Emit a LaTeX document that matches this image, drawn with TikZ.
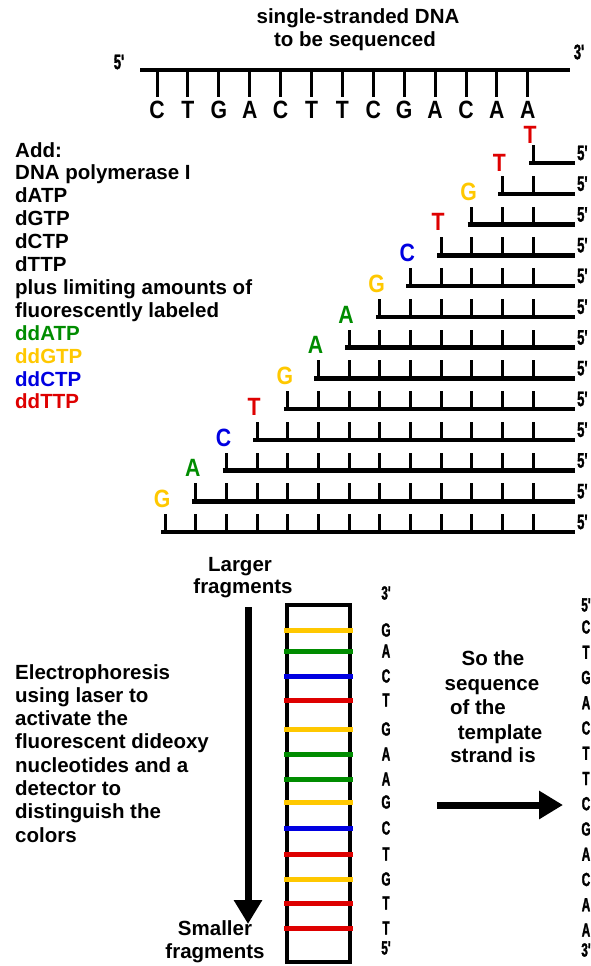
\documentclass[tikz,border=0pt]{standalone}
\usepackage{fontspec}
\setmainfont{Liberation Sans}
\newfontfamily\letf[FakeStretch=0.85]{Liberation Sans Bold}
\newfontfamily\gelf[FakeStretch=0.62,FakeBold=1.5]{Liberation Sans Bold}
\usetikzlibrary{arrows.meta}
\definecolor{cred}{RGB}{222,0,0}
\definecolor{cgrn}{RGB}{0,140,0}
\definecolor{cyel}{RGB}{255,200,0}
\definecolor{cblu}{RGB}{0,0,225}
\tikzset{
  txt/.style={inner sep=0pt,anchor=base west,font=\fontsize{20.5}{23}\bfseries\selectfont},
  ctxt/.style={inner sep=0pt,anchor=base,font=\fontsize{20.5}{23}\bfseries\selectfont},
  base letter/.style={inner sep=0pt,font=\fontsize{25}{25}\letf\selectfont},
  gel letter/.style={inner sep=0pt,font=\fontsize{19}{19}\gelf\selectfont},
  five/.style={inner sep=0pt,anchor=west,font=\fontsize{21}{21}\gelf\selectfont},
  strand/.style={line width=4.5pt},
  tick/.style={line width=3pt},
  band/.style={line width=5pt},
  bigarrow/.style={line width=7pt,-{Triangle[width=27pt,length=24pt]}}
}
\begin{document}
\begin{tikzpicture}[x=1pt,y=-1pt]
\useasboundingbox (0,0) rectangle (590,966);
% title
\node[ctxt] (t1) at (358,24) {single-stranded DNA};
\node[ctxt] (t2) at (355,47) {to be sequenced};
% template strand
\coordinate (ts) at (140,70);
\coordinate (te) at (570,70);
\draw[strand] (ts) -- (te);
\node[five,anchor=center] (t5) at (119,62) {5'};
\node[five,anchor=center] (t3) at (579,52) {3'};
\foreach \b [count=\j from 0] in {C,T,G,A,C,T,T,C,G,A,C,A,A}{
  \coordinate (tt\j) at (157+30.9*\j,70);
  \draw[tick] (tt\j) -- ++(0,27);
  \node[base letter] (tl\j) at (157+30.9*\j,110) {\b};
}
% left reagent list
\foreach \t/\c [count=\n from 0] in {Add:/black,DNA polymerase I/black,dATP/black,dGTP/black,dCTP/black,dTTP/black,plus limiting amounts of/black,fluorescently labeled/black,ddATP/cgrn,ddGTP/cyel,ddCTP/cblu,ddTTP/cred}{
  \node[txt,text=\c] (r\n) at (15,157+22.9*\n) {\t};
}
% fragments
\foreach \i/\b/\c/\o in {0/T/cred/28,1/T/cred/31,2/G/cyel/33,3/T/cred/33,4/C/cblu/33,5/G/cyel/33,6/A/cgrn/33,7/A/cgrn/33,8/G/cyel/33,9/T/cred/33,10/C/cblu/33,11/A/cgrn/33,12/G/cyel/33}{
  \pgfmathsetmacro\yy{163+30.75*\i}
  \pgfmathsetmacro\xl{533-30.65*\i}
  \coordinate (fs\i) at (\xl-4,\yy);
  \coordinate (fe\i) at (575,\yy);
  \draw[strand] (fs\i) -- (fe\i);
  \foreach \k in {0,...,\i}{\draw[tick] (533-30.65*\k,\yy+1) -- ++(0,-19);}
  \node[base letter,text=\c] (nl\i) at (\xl-3,\yy-\o) {\b};
  \node[five] (f5\i) at (577,\yy-10) {5'};
}
% electrophoresis text
\foreach \t [count=\n from 0] in {Electrophoresis,using laser to,activate the,fluorescent dideoxy,nucleotides and a,detector to,distinguish the,colors}{
  \node[txt] (e\n) at (15,679+23.3*\n) {\t};
}
% larger/smaller
\node[ctxt] (lg1) at (240,571) {Larger};
\node[ctxt] (lg2) at (243,593) {fragments};
\node[ctxt] (sm1) at (215,935) {Smaller};
\node[ctxt] (sm2) at (215,958) {fragments};
\coordinate (va) at (248,607);
\coordinate (vb) at (248,924);
\draw[bigarrow] (va) -- (vb);
% gel
\node[draw,line width=3.5pt,minimum width=63pt,minimum height=357pt,inner sep=0pt] (gel) at (318.5,783.5) {};
\foreach \y/\c/\b [count=\n from 0] in {630/cyel/G,651/cgrn/A,676/cblu/C,700/cred/T,729/cyel/G,754/cgrn/A,779/cgrn/A,802/cyel/G,828/cblu/C,854/cred/T,879/cyel/G,903/cred/T,928/cred/T}{
  \coordinate (bs\n) at (284,\y);
  \coordinate (be\n) at (353,\y);
  \draw[band,\c] (bs\n) -- (be\n);
  \node[gel letter] (gl\n) at (386,\y) {\b};
}
\node[gel letter] (g3) at (386,593) {3'};
\node[gel letter] (g5) at (386,948) {5'};
% explanation
\node[ctxt] (s1) at (493,665) {So the};
\node[ctxt] (s2) at (492,690) {sequence};
\node[ctxt] (s3) at (478,714) {of the};
\node[ctxt] (s4) at (500,739) {template};
\node[ctxt] (s5) at (493,762) {strand is};
\coordinate (ha) at (437,805);
\coordinate (hb) at (563,805);
\draw[bigarrow] (ha) -- (hb);
% right column
\node[gel letter] (rc5) at (586,605) {5'};
\foreach \b [count=\n from 0] in {C,T,G,A,C,T,T,C,G,A,C,A,A}{
  \node[gel letter] (rc\n) at (586,627+25.25*\n) {\b};
}
\node[gel letter] (rc3) at (586,950) {3'};
\end{tikzpicture}
\end{document}
